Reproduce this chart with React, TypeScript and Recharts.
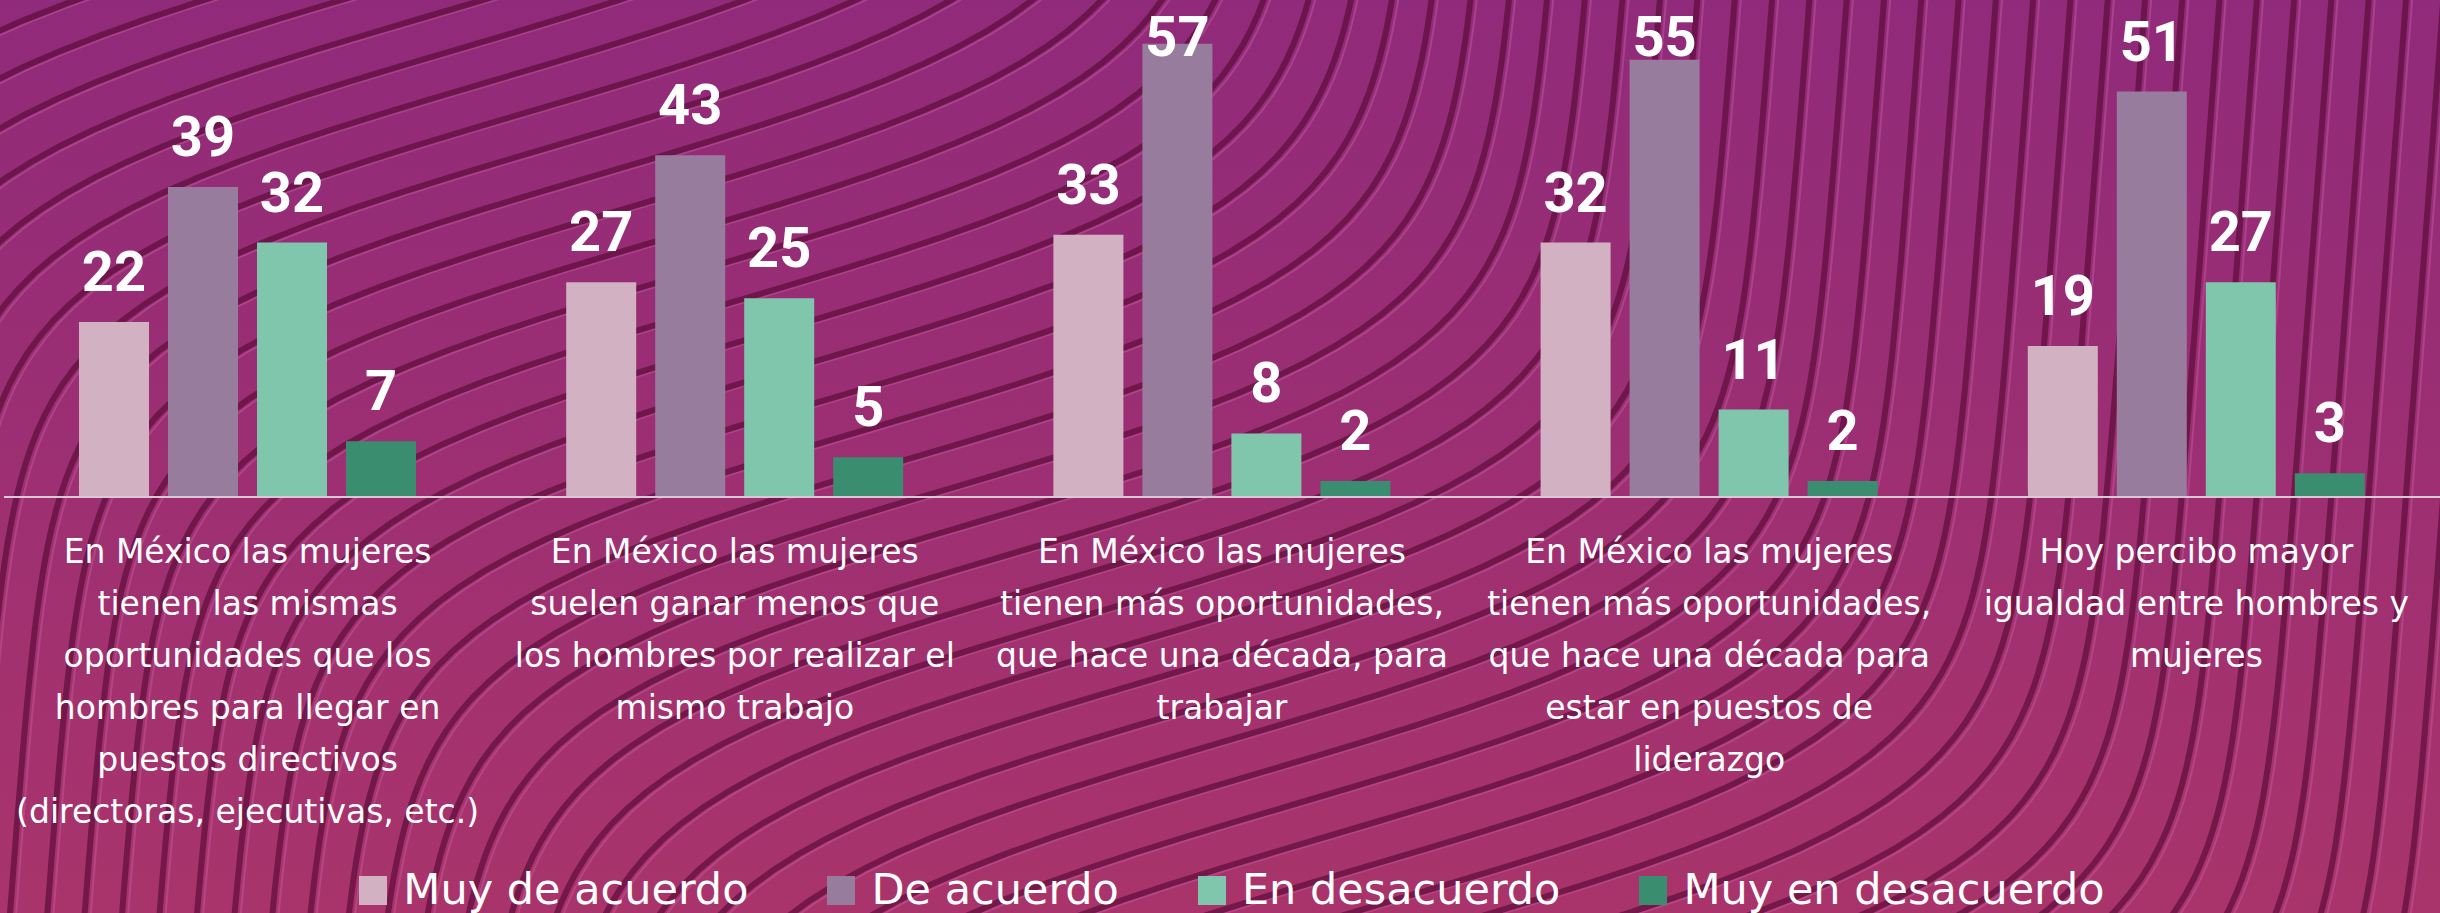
import { Bar, BarChart, LabelList, Legend, XAxis, YAxis } from "recharts";

// Category labels, already broken into the lines the original uses.
const categoryLines = [
  [
    "En México las mujeres",
    "tienen las mismas",
    "oportunidades que los",
    "hombres para llegar en",
    "puestos directivos",
    "(directoras, ejecutivas, etc.)",
  ],
  ["En México las mujeres", "suelen ganar menos que", "los hombres por realizar el", "mismo trabajo"],
  ["En México las mujeres", "tienen más oportunidades,", "que hace una década, para", "trabajar"],
  [
    "En México las mujeres",
    "tienen más oportunidades,",
    "que hace una década para",
    "estar en puestos de",
    "liderazgo",
  ],
  ["Hoy percibo mayor", "igualdad entre hombres y", "mujeres"],
];

const muyDeAcuerdo = [22, 27, 33, 32, 19];
const deAcuerdo = [39, 43, 57, 55, 51];
const enDesacuerdo = [32, 25, 8, 11, 27];
const muyEnDesacuerdo = [7, 5, 2, 2, 3];

const seriesKeys = ["muyDeAcuerdo", "deAcuerdo", "enDesacuerdo", "muyEnDesacuerdo"];
const seriesNames = ["Muy de acuerdo", "De acuerdo", "En desacuerdo", "Muy en desacuerdo"];
const seriesColors = ["#d1b1c2", "#977c9d", "#7fc6ad", "#3b8d6f"];

const data = categoryLines.map((lines, i) => ({
  name: lines.join(" "),
  muyDeAcuerdo: muyDeAcuerdo[i],
  deAcuerdo: deAcuerdo[i],
  enDesacuerdo: enDesacuerdo[i],
  muyEnDesacuerdo: muyEnDesacuerdo[i],
}));

const linesByName: Record<string, string[]> = {};
categoryLines.forEach((l) => (linesByName[l.join(" ")] = l));

const W = 2440;
const H = 913;

// decorative wavy stripes behind the chart (shifted copies of one S-curve)
function WaveBackground() {
  const paths: string[] = [];
  for (let k = -40; k <= 50; k++) {
    const ox = 700 + k * 47 * 0.743;
    const oy = 270 + k * 47 * 0.669;
    let d = "";
    for (let u = -14; u <= 14.001; u += 0.1) {
      const px = ox + 530 * Math.tanh(u) + 12 * u;
      const py = oy - 160 * u;
      d += (d ? "L" : "M") + px.toFixed(1) + " " + py.toFixed(1);
    }
    paths.push(d);
  }
  return (
    <svg width={W} height={H} style={{ position: "absolute", left: 0, top: 0 }}>
      <defs>
        <linearGradient id="bg" x1="0" y1="0" x2="0" y2="1">
          <stop offset="0%" stopColor="#902a7a" />
          <stop offset="100%" stopColor="#a9346b" />
        </linearGradient>
      </defs>
      <rect width={W} height={H} fill="url(#bg)" />
      {paths.map((d, i) => (
        <g key={i} fill="none">
          <path d={d} stroke="#c85ea2" strokeOpacity={0.45} strokeWidth={2} transform="translate(6,2)" />
          <path d={d} stroke="#5c0d3a" strokeOpacity={0.7} strokeWidth={6} />
        </g>
      ))}
    </svg>
  );
}

function CategoryTick(props: any) {
  const { x, y, payload } = props;
  const lines = linesByName[payload.value] ?? [payload.value];
  return (
    <text x={x} y={y} textAnchor="middle" fill="#ffffff" fontFamily="DejaVu Sans" fontSize={33}>
      {lines.map((l, i) => (
        <tspan key={i} x={x} dy={i === 0 ? 58 : 52}>
          {l}
        </tspan>
      ))}
    </text>
  );
}

function ValueLabel(props: any) {
  const { x, y, width, value } = props;
  const base = Math.max(Number(y) - 31, 56);
  return (
    <text
      x={Number(x) + Number(width) / 2}
      y={base}
      textAnchor="middle"
      fill="#ffffff"
      fontFamily="Roboto"
      fontWeight={700}
      fontSize={56}
    >
      {value}
    </text>
  );
}

function LegendRow() {
  return (
    <div
      style={{
        display: "flex",
        justifyContent: "center",
        height: 60,
        paddingTop: 11,
        paddingLeft: 20,
        boxSizing: "border-box",
      }}
    >
      {seriesNames.map((n, i) => (
        <div key={n} style={{ display: "flex", height: 50, marginRight: i < 3 ? 79 : 0 }}>
          <span
            style={{ width: 28, height: 29, marginTop: 12, marginRight: 16, background: seriesColors[i] }}
          />
          <span style={{ fontFamily: "DejaVu Sans", fontSize: 43, lineHeight: "50px", color: "#ffffff" }}>
            {n}
          </span>
        </div>
      ))}
    </div>
  );
}

export default function App() {
  return (
    <div style={{ position: "absolute", left: 0, top: 0, width: W, height: H, overflow: "hidden" }}>
      <WaveBackground />
      <div style={{ position: "absolute", left: 0, top: 0 }}>
        <BarChart
          width={W}
          height={H}
          data={data}
          margin={{ top: 20, right: 0, bottom: 0, left: 4 }}
          barSize={70}
          barGap={19}
        >
          <XAxis
            dataKey="name"
            interval={0}
            height={356}
            tickLine={false}
            axisLine={{ stroke: "#d9c8d6", strokeWidth: 2 }}
            tick={<CategoryTick />}
          />
          <YAxis hide domain={[0, 60]} />
          <Legend verticalAlign="bottom" height={60} content={<LegendRow />} />
          {seriesKeys.map((k, i) => (
            <Bar key={k} dataKey={k} name={seriesNames[i]} fill={seriesColors[i]} isAnimationActive={false}>
              <LabelList dataKey={k} content={<ValueLabel />} />
            </Bar>
          ))}
        </BarChart>
      </div>
    </div>
  );
}
